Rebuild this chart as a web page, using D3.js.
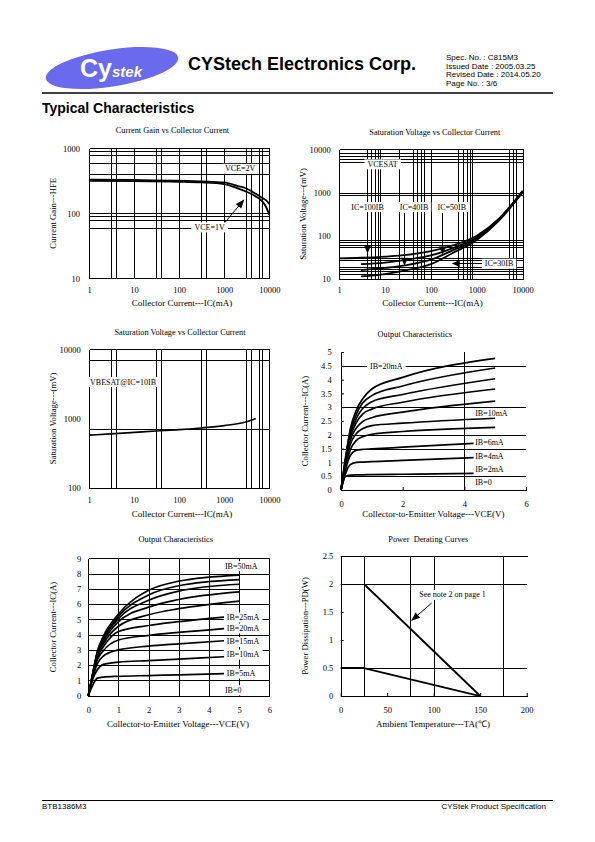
<!DOCTYPE html>
<html><head><meta charset="utf-8">
<script src="https://cdn.jsdelivr.net/npm/d3@7/dist/d3.min.js"></script>
<style>
body{margin:0;background:#fff;}
svg{display:block;}
text{white-space:pre;}
</style></head><body>
<svg id="page" width="595" height="842"></svg>
<script>
// ================= DATA =================
// Chart 1: Current gain vs collector current
const gainIc   = [1, 10, 100, 300, 1000, 2000, 3000, 5000, 7000, 8500, 10000];
const gainVce2 = [330, 326, 318, 310, 298, 262, 243, 200, 172, 158, 140];
const gainVce1 = [316, 313, 305, 298, 282, 242, 217, 182, 152, 125, 95];

// Chart 2: VCE(sat) vs IC
const satIcA = [1, 3, 10, 30, 100, 300, 1000, 3000, 10000];
const satMvA = [30, 31, 33, 36, 44, 60, 100, 245, 1100];
const satIcB = [3, 10, 30, 100, 300, 1000, 3000, 10000];
const satMvB = [22, 24, 28, 35, 52, 92, 235, 1080];
const satMvC = [16, 18, 21, 28, 46, 86, 228, 1050];
const satMvD = [11.5, 13, 16, 22, 40, 80, 220, 1020];

// Chart 3: VBE(sat) vs IC
const vbeIc = [1, 3, 10, 30, 100, 300, 1000, 3000, 5000];
const vbeMv = [575, 600, 630, 660, 690, 730, 790, 890, 1000];

// Chart 4: Output characteristics (IB up to 20mA)
const oc1Vce      = [0, 0.15, 0.3, 0.5, 0.7, 1, 2, 5];
const oc1VceShort = [0, 0.15, 0.3, 0.5, 0.7, 1, 2, 4.3];
const oc1Long = [
  [0, 1.2, 2.2, 2.9, 3.3, 3.66, 4.08, 4.77],
  [0, 1.15, 2.1, 2.75, 3.15, 3.42, 3.77, 4.42],
  [0, 1.1, 2.0, 2.6, 2.95, 3.2, 3.46, 4.03],
  [0, 1.05, 1.9, 2.45, 2.75, 2.93, 3.18, 3.66],
  [0, 1.0, 1.8, 2.25, 2.48, 2.62, 2.82, 3.22],
  [0, 0.95, 1.65, 2.05, 2.22, 2.33, 2.42, 2.6],
  [0, 0.85, 1.45, 1.8, 1.93, 2.02, 2.12, 2.27]
];
const oc1Short = [
  [0, 0.75, 1.25, 1.44, 1.47, 1.49, 1.55, 1.69],
  [0, 0.6, 0.92, 1.0, 1.01, 1.03, 1.07, 1.17],
  [0, 0.5, 0.54, 0.55, 0.55, 0.56, 0.57, 0.6]
];
const oc1Labels = ["IB=20mA", "IB=10mA", "IB=6mA", "IB=4mA", "IB=2mA", "IB=0"];

// Chart 5: Output characteristics (IB up to 50mA)
const oc2Vce      = [0, 0.15, 0.3, 0.5, 1, 2, 3, 5];
const oc2VceShort = [0, 0.15, 0.3, 0.5, 1, 2, 3, 4.5];
const oc2Long = [
  [0, 1.5, 2.9, 3.9, 5.35, 6.9, 7.5, 7.9],
  [0, 1.5, 2.85, 3.8, 5.2, 6.6, 7.2, 7.6],
  [0, 1.45, 2.8, 3.7, 5.05, 6.25, 6.85, 7.3],
  [0, 1.4, 2.7, 3.55, 4.85, 5.8, 6.3, 6.8],
  [0, 1.4, 2.6, 3.4, 4.55, 5.3, 5.7, 6.2]
];
const oc2Short = [
  [0, 1.35, 2.5, 3.2, 4.2, 4.6, 4.85, 5.15],
  [0, 1.3, 2.35, 2.95, 3.65, 3.95, 4.15, 4.4],
  [0, 1.2, 2.1, 2.6, 3.0, 3.25, 3.4, 3.6],
  [0, 1.1, 1.7, 2.05, 2.2, 2.3, 2.4, 2.55],
  [0, 0.7, 1.15, 1.22, 1.27, 1.32, 1.37, 1.45]
];
const oc2Labels = ["IB=50mA", "IB=25mA", "IB=20mA", "IB=15mA", "IB=10mA", "IB=5mA", "IB=0"];

// Chart 6: Power derating
const pdTaA = [25, 150];
const pdWA  = [2, 0];
const pdTaB = [0, 25, 150];
const pdWB  = [0.5, 0.5, 0];

// Tick labels
const logTicks5 = [1, 10, 100, 1000, 10000];
const gainYTicks = [10, 100, 1000];
const satYTicks = [10, 100, 1000, 10000];
const vbeYTicks = [100, 1000, 10000];
const oc1YTicks = [0, 0.5, 1, 1.5, 2, 2.5, 3, 3.5, 4, 4.5, 5];
const oc1XTicks = [0, 2, 4, 6];
const oc2YTicks = [0, 1, 2, 3, 4, 5, 6, 7, 8, 9];
const oc2XTicks = [0, 1, 2, 3, 4, 5, 6];
const pdYTicks = [0, 0.5, 1, 1.5, 2, 2.5];
const pdXTicks = [0, 50, 100, 150, 200];

// ================= DRAWING =================
const SERIF = '"Liberation Serif","Times New Roman",serif';
const SANS = '"Liberation Sans",Arial,sans-serif';
const svg = d3.select('#page');

// ---- Header ----
const logoG = svg.append('g').attr('transform', 'translate(112,68) rotate(-9)');
logoG.append('ellipse').attr('rx', 67).attr('ry', 18.5).attr('fill', '#6a6aee');
const logoT = svg.append('text').attr('x', 80).attr('y', 77).attr('fill', '#fff')
  .attr('font-family', SANS).attr('font-weight', 'bold').attr('font-size', 25).text('Cy');
logoT.append('tspan').attr('font-size', 15).attr('font-style', 'italic').text('stek');

svg.append('text').attr('x', 188).attr('y', 70).attr('font-family', SANS).attr('font-weight', 'bold')
  .attr('font-size', 18).text('CYStech Electronics Corp.');
const specLines = ['Spec. No. : C815M3', 'Issued Date : 2005.03.25', 'Revised Date : 2014.05.20', 'Page No. : 3/6'];
svg.append('g').selectAll('text').data(specLines).join('text')
  .attr('x', 446).attr('y', (d, i) => 60 + i * 8.7).attr('font-family', SANS).attr('font-size', 8).text(d => d);
svg.append('line').attr('x1', 42).attr('x2', 553).attr('y1', 93).attr('y2', 93).attr('stroke', '#000').attr('stroke-width', 1.5);
svg.append('text').attr('x', 42).attr('y', 113).attr('font-family', SANS).attr('font-weight', 'bold')
  .attr('font-size', 14).text('Typical Characteristics');

// ---- Footer ----
svg.append('line').attr('x1', 42).attr('x2', 553).attr('y1', 800.5).attr('y2', 800.5).attr('stroke', '#000').attr('stroke-width', 1);
svg.append('text').attr('x', 42).attr('y', 809).attr('font-family', SANS).attr('font-size', 8).text('BTB1386M3');
svg.append('text').attr('x', 546).attr('y', 809).attr('text-anchor', 'end').attr('font-family', SANS).attr('font-size', 8).text('CYStek Product Specification');

// ---- helpers ----
const px = v => Math.round(v) + 0.5;
function gridV(g, x, y, vals) {
  g.append('g').selectAll('line').data(vals).join('line')
    .attr('x1', d => px(x(d))).attr('x2', d => px(x(d)))
    .attr('y1', y.range()[0]).attr('y2', y.range()[1])
    .attr('stroke', '#000').attr('stroke-width', 1).attr('shape-rendering', 'crispEdges');
}
function gridH(g, x, y, vals) {
  g.append('g').selectAll('line').data(vals).join('line')
    .attr('y1', d => px(y(d))).attr('y2', d => px(y(d)))
    .attr('x1', x.range()[0]).attr('x2', x.range()[1])
    .attr('stroke', '#000').attr('stroke-width', 1).attr('shape-rendering', 'crispEdges');
}
function frame(g, x, y, sides) {
  const [x0, x1] = x.range(), [y0, y1] = y.range();
  const L = { l: [x0, y0, x0, y1], r: [x1, y0, x1, y1], t: [x0, y1, x1, y1], b: [x0, y0, x1, y0] };
  sides.split('').forEach(s => {
    const c = L[s];
    g.append('line').attr('x1', px(c[0])).attr('y1', px(c[1])).attr('x2', px(c[2])).attr('y2', px(c[3]))
      .attr('stroke', '#000').attr('stroke-width', 1.2).attr('shape-rendering', 'crispEdges');
  });
}
function axes(g, x, y, xt, yt, xpad, ypad, fmt, tick) {
  const ax = g.append('g').attr('transform', `translate(0,${y.range()[0]})`)
    .call(d3.axisBottom(x).tickValues(xt).tickFormat(fmt).tickSizeInner(tick ? -3 : 0).tickSizeOuter(0).tickPadding(xpad));
  const ay = g.append('g').attr('transform', `translate(${x.range()[0]},0)`)
    .call(d3.axisLeft(y).tickValues(yt).tickFormat(fmt).tickSizeInner(tick ? -3 : 0).tickSizeOuter(0).tickPadding(ypad));
  [ax, ay].forEach(a => {
    a.select('.domain').remove();
    a.attr('font-family', SERIF).attr('font-size', 8.5);
    a.selectAll('line').attr('stroke', '#000');
  });
}
function texts(g, title, tx, ty, xtitle, xtx, xty, ytitle, ytx, yty) {
  g.append('text').attr('x', tx).attr('y', ty + 3).attr('text-anchor', 'middle')
    .attr('font-family', SERIF).attr('font-size', 8.3).text(title);
  g.append('text').attr('x', xtx).attr('y', xty + 3).attr('text-anchor', 'middle')
    .attr('font-family', SERIF).attr('font-size', 9).text(xtitle);
  g.append('text').attr('transform', `translate(${ytx + 3},${yty}) rotate(-90)`).attr('text-anchor', 'middle')
    .attr('font-family', SERIF).attr('font-size', 8.7).text(ytitle);
}
function tag(g, x, y, txt, anchor) {
  const t = g.append('text').attr('x', x).attr('y', y).attr('dy', '0.35em')
    .attr('text-anchor', anchor || 'middle').attr('font-family', SERIF).attr('font-size', 8).text(txt);
  const b = t.node().getBBox();
  g.insert('rect', () => t.node()).attr('x', b.x - 3).attr('y', b.y - 0.5)
    .attr('width', b.width + 6).attr('height', b.height + 1).attr('fill', '#fff');
  return b;
}
function head(g, tx, ty, ang, len, w) {
  len = len || 8; w = w || 7;
  const bx = tx - len * Math.cos(ang), by = ty - len * Math.sin(ang);
  const ox = -Math.sin(ang) * w / 2, oy = Math.cos(ang) * w / 2;
  g.append('path').attr('d', `M${tx},${ty}L${bx + ox},${by + oy}L${bx - ox},${by - oy}Z`).attr('fill', '#000');
}
function arrow(g, x1, y1, tx, ty) {
  const ang = Math.atan2(ty - y1, tx - x1);
  g.append('line').attr('x1', x1).attr('y1', y1).attr('x2', tx - 6 * Math.cos(ang)).attr('y2', ty - 6 * Math.sin(ang))
    .attr('stroke', '#000').attr('stroke-width', 1);
  head(g, tx, ty, ang, 9, 7);
}
function curve(g, x, y, xs, ys, w, smooth) {
  const pts = xs.map((v, i) => [v, ys[i]]);
  g.append('path').datum(pts)
    .attr('d', d3.line().x(d => x(d[0])).y(d => y(d[1])).curve(smooth ? d3.curveMonotoneX : d3.curveLinear))
    .attr('fill', 'none').attr('stroke', '#000').attr('stroke-width', w || 2).attr('stroke-linejoin', 'round');
}
const fmtD = d3.format('d');
const fmtG = d => String(d);

// ---- Chart 1: Current gain ----
{
  const g = svg.append('g');
  const x = d3.scaleLog().domain([1, 10000]).range([89, 269.3]);
  const y = d3.scaleLog().domain([10, 1000]).range([278.3, 148.3]);
  gridV(g, x, y, [3, 4, 10, 30, 40, 100, 300, 400, 1000, 3000, 4000, 6000, 7000]);
  gridH(g, x, y, [900, 800, 600, 400, 100, 90, 80, 60]);
  frame(g, x, y, 'lrtb');
  axes(g, x, y, logTicks5, gainYTicks, 8.7, 9, fmtD, false);
  texts(g, 'Current Gain vs Collector Current', 172.5, 130, 'Collector Current---IC(mA)', 182, 303, 'Current Gain---HFE', 53, 213.3);
  curve(g, x, y, gainIc, gainVce2, 1.8, true);
  curve(g, x, y, gainIc, gainVce1, 1.8, true);
  tag(g, x(2245), y(489), 'VCE=2V');
  tag(g, x(472), y(61.5), 'VCE=1V');
  arrow(g, x(1043), y(72.8), x(2800), y(164));
}

// ---- Chart 2: VCE(sat) ----
{
  const g = svg.append('g');
  const x = d3.scaleLog().domain([1, 10000]).range([339, 522.7]);
  const y = d3.scaleLog().domain([10, 10000]).range([279, 149.3]);
  gridV(g, x, y, [4, 5, 6, 7, 8, 20, 40, 50, 60, 70, 100, 400, 500, 600, 700, 800, 5000, 6000, 7000]);
  gridH(g, x, y, [8000, 7000, 6000, 5000, 1000, 900, 80, 70, 62, 56, 30, 27, 19, 17, 15, 13]);
  frame(g, x, y, 'lrtb');
  axes(g, x, y, logTicks5, satYTicks, 8, 8.3, fmtD, false);
  texts(g, 'Saturation Voltage vs Collector Current', 434.8, 131.7, 'Collector Current---IC(mA)', 432.5, 303.3, 'Saturation Voltage---(mV)', 303.3, 214);
  curve(g, x, y, satIcA, satMvA, 1.8, true);
  curve(g, x, y, satIcB, satMvB, 1.8, true);
  curve(g, x, y, satIcB, satMvC, 1.8, true);
  curve(g, x, y, satIcB, satMvD, 1.8, true);
  tag(g, x(8.9), y(4560), 'VCESAT');
  const b1 = tag(g, x(4.2), y(470), 'IC=100IB');
  const b2 = tag(g, x(43), y(470), 'IC=40IB');
  const b3 = tag(g, x(285), y(470), 'IC=50IB');
  const b4 = tag(g, x(3060), y(23), 'IC=30IB');
  const stemV = (bx, tipX, tipY) => {
    g.append('line').attr('x1', px(x(tipX))).attr('x2', px(x(tipX))).attr('y1', bx.y + bx.height + 1).attr('y2', y(tipY) - 6)
      .attr('stroke', '#000').attr('stroke-width', 1).attr('shape-rendering', 'crispEdges');
    head(g, px(x(tipX)), y(tipY), Math.PI / 2, 8, 7);
  };
  stemV(b1, 4, 39);
  stemV(b2, 26.5, 20.3);
  stemV(b3, 178, 37);
  g.append('line').attr('x1', b4.x - 3).attr('x2', x(285) + 6).attr('y1', px(y(23))).attr('y2', px(y(23)))
    .attr('stroke', '#000').attr('stroke-width', 1).attr('shape-rendering', 'crispEdges');
  head(g, x(285), px(y(23)), Math.PI, 8, 7);
}

// ---- Chart 3: VBE(sat) ----
{
  const g = svg.append('g');
  const x = d3.scaleLog().domain([1, 10000]).range([89, 269.3]);
  const y = d3.scaleLog().domain([100, 10000]).range([487.7, 349.3]);
  gridV(g, x, y, [3, 4, 30, 40, 300, 400, 3000, 4000, 6000, 7000]);
  gridH(g, x, y, [7000, 700]);
  frame(g, x, y, 'lrtb');
  axes(g, x, y, logTicks5, vbeYTicks, 9.3, 8.3, fmtD, false);
  texts(g, 'Saturation Voltage vs Collector Current', 180, 331.7, 'Collector Current---IC(mA)', 182, 514, 'Saturation Voltage---(mV)', 53.3, 418.5);
  curve(g, x, y, vbeIc, vbeMv, 1.6, true);
  tag(g, x(5.7), y(3400), 'VBESAT@IC=10IB');
}

// ---- Chart 4: Output characteristics 1 ----
{
  const g = svg.append('g');
  const x = d3.scaleLinear().domain([0, 6]).range([341, 526]);
  const y = d3.scaleLinear().domain([0, 5]).range([490, 352]);
  gridV(g, x, y, [4]);
  gridH(g, x, y, [0.5, 1.5, 2, 3, 4.5]);
  frame(g, x, y, 'lb');
  axes(g, x, y, oc1XTicks, oc1YTicks, 11.3, 9.3, fmtG, true);
  texts(g, 'Output Characteristics', 414.8, 334.3, 'Collector-to-Emitter Voltage---VCE(V)', 433.3, 514.3, 'Collector Current---IC(A)', 305, 421);
  tag(g, x(0.94), y(4.47), oc1Labels[0], 'start');
  tag(g, x(4.35), y(2.8), oc1Labels[1], 'start');
  tag(g, x(4.35), y(1.75), oc1Labels[2], 'start');
  tag(g, x(4.35), y(1.21), oc1Labels[3], 'start');
  tag(g, x(4.35), y(0.75), oc1Labels[4], 'start');
  tag(g, x(4.35), y(0.3), oc1Labels[5], 'start');
  oc1Long.forEach(s => curve(g, x, y, oc1Vce, s, 1.7, true));
  oc1Short.forEach(s => curve(g, x, y, oc1VceShort, s, 1.7, true));
}

// ---- Chart 5: Output characteristics 2 ----
{
  const g = svg.append('g');
  const x = d3.scaleLinear().domain([0, 6]).range([88.3, 269.3]);
  const y = d3.scaleLinear().domain([0, 9]).range([695.7, 558.3]);
  gridV(g, x, y, [1, 2, 3, 4, 5]);
  gridH(g, x, y, [1, 2, 3, 4, 5, 6, 7, 8]);
  frame(g, x, y, 'lrtb');
  axes(g, x, y, oc2XTicks, oc2YTicks, 11.3, 7, fmtG, false);
  texts(g, 'Output Characteristics', 175.8, 539.3, 'Collector-to-Emitter Voltage---VCE(V)', 178, 724, 'Collector Current---IC(A)', 53.3, 627);
  tag(g, x(4.53), y(8.5), oc2Labels[0], 'start');
  tag(g, x(4.59), y(5.14), oc2Labels[1], 'start');
  tag(g, x(4.59), y(4.42), oc2Labels[2], 'start');
  tag(g, x(4.59), y(3.54), oc2Labels[3], 'start');
  tag(g, x(4.59), y(2.71), oc2Labels[4], 'start');
  tag(g, x(4.59), y(1.47), oc2Labels[5], 'start');
  tag(g, x(4.53), y(0.37), oc2Labels[6], 'start');
  oc2Long.forEach(s => curve(g, x, y, oc2Vce, s, 1.7, true));
  oc2Short.forEach(s => curve(g, x, y, oc2VceShort, s, 1.7, true));
}

// ---- Chart 6: Power derating ----
{
  const g = svg.append('g');
  const x = d3.scaleLinear().domain([0, 200]).range([340.7, 526.7]);
  const y = d3.scaleLinear().domain([0, 2.5]).range([696, 556]);
  gridV(g, x, y, [25, 75, 100, 175]);
  gridH(g, x, y, [0.5, 2]);
  frame(g, x, y, 'ltb');
  axes(g, x, y, pdXTicks, pdYTicks, 11.3, 7.4, fmtG, true);
  texts(g, 'Power  Derating Curves', 428.3, 539.3, 'Ambient Temperature---TA(℃)', 433, 724, 'Power Dissipation---PD(W)', 305, 626);
  curve(g, x, y, pdTaA, pdWA, 1.8, false);
  curve(g, x, y, pdTaB, pdWB, 1.8, false);
  tag(g, x(120.2), y(1.81), 'See note 2 on page 1');
  arrow(g, x(97.8), y(1.66), x(75.6), y(1.34));
}
</script>
</body></html>
